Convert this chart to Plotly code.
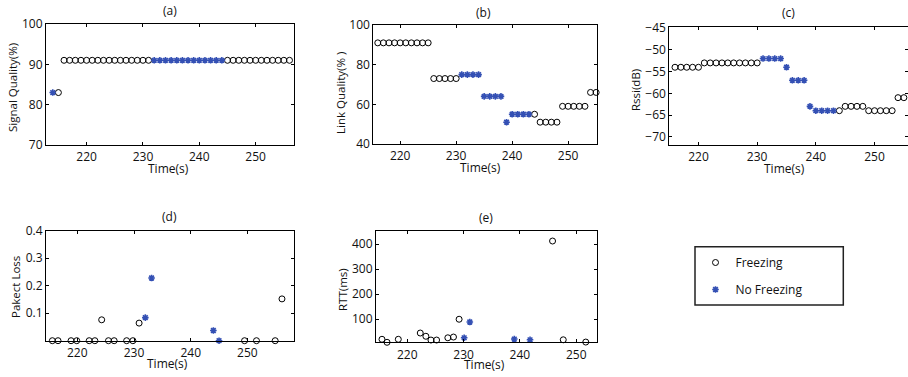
import plotly.graph_objects as go

# ---------------- data ----------------
# (a) Signal quality (%)
a_free_t = [215, 216, 217, 218, 219, 220, 221, 222, 223, 224, 225, 226, 227, 228, 229, 230, 231,
            245, 246, 247, 248, 249, 250, 251, 252, 253, 254, 255, 256, 257]
a_free_v = [83, 91, 91, 91, 91, 91, 91, 91, 91, 91, 91, 91, 91, 91, 91, 91, 91,
            91, 91, 91, 91, 91, 91, 91, 91, 91, 91, 91, 91, 91]
a_nofree_t = [214, 232, 233, 234, 235, 236, 237, 238, 239, 240, 241, 242, 243, 244]
a_nofree_v = [83, 91, 91, 91, 91, 91, 91, 91, 91, 91, 91, 91, 91, 91]

# (b) Link quality (%)
b_free_t = [216, 217, 218, 219, 220, 221, 222, 223, 224, 225, 226, 227, 228, 229, 230,
            244, 245, 246, 247, 248, 249, 250, 251, 252, 253, 254, 255]
b_free_v = [91, 91, 91, 91, 91, 91, 91, 91, 91, 91, 73, 73, 73, 73, 73,
            55, 51, 51, 51, 51, 59, 59, 59, 59, 59, 66, 66]
b_nofree_t = [231, 232, 233, 234, 235, 236, 237, 238, 239, 240, 241, 242, 243]
b_nofree_v = [75, 75, 75, 75, 64, 64, 64, 64, 51, 55, 55, 55, 55]

# (c) RSSI (dB)
c_free_t = [216, 217, 218, 219, 220, 221, 222, 223, 224, 225, 226, 227, 228, 229, 230,
            244, 245, 246, 247, 248, 249, 250, 251, 252, 253, 254, 255]
c_free_v = [-54, -54, -54, -54, -54, -53, -53, -53, -53, -53, -53, -53, -53, -53, -53,
            -64, -63, -63, -63, -63, -64, -64, -64, -64, -64, -61, -61]
c_nofree_t = [231, 232, 233, 234, 235, 236, 237, 238, 239, 240, 241, 242, 243]
c_nofree_v = [-52, -52, -52, -52, -54, -57, -57, -57, -63, -64, -64, -64, -64]

# (d) Packet loss
d_free_t = [215.6, 216.6, 218.9, 219.9, 222.1, 223.1, 224.3, 225.5, 226.5, 228.7, 229.8,
            230.9, 249.5, 251.6, 254.9, 256.1]
d_free_v = [0, 0, 0, 0, 0, 0, 0.076, 0, 0, 0, 0, 0.064, 0, 0, 0, 0.152]
d_nofree_t = [232.0, 233.1, 244.0, 245.0]
d_nofree_v = [0.084, 0.228, 0.037, 0.0]

# (e) RTT (ms)
e_free_t = [215.5, 216.4, 218.4, 222.3, 223.3, 224.2, 225.2, 227.2, 228.2, 229.2, 245.8, 247.7, 251.7]
e_free_v = [20, 8, 20, 45, 32, 17, 17, 26, 29, 100, 412, 18, 9]
e_nofree_t = [230.1, 231.1, 239.0, 241.8]
e_nofree_v = [26, 89, 21, 18]

x_ticks = [220, 230, 240, 250]

# ---------------- layout helpers ----------------
W, H = 908, 377
FONT = "Open Sans"
BLUE = "#3450b4"


def px_x(p):
    return p / W


def px_y(p):
    return 1 - p / H


panels = {
    # name: (x0, x1, ytop, ybottom) in pixels
    "a": (46, 294, 24, 145),
    "b": (373.3, 596.7, 25, 144),
    "c": (669.3, 908, 27.3, 145),
    "d": (46, 294, 230.7, 340.7),
    "e": (376, 596.7, 231, 342.3),
}

xranges = {
    "a": [212.8, 256.8],
    "b": [215.2, 255.1],
    "c": [215.03, 255.7],
    "d": [214.48, 258.22],
    "e": [214.44, 253.64],
}
yranges = {
    "a": [70, 100],
    "b": [40, 100],
    "c": [-71.9, -44.8],
    "d": [0, 0.4],
    "e": [8, 452],
}
yticks = {
    "a": ([70, 80, 90, 100], None),
    "b": ([40, 60, 80, 100], None),
    "c": ([-70, -65, -60, -55, -50, -45], ["\u221270", "\u221265", "\u221260", "\u221255", "\u221250", "\u221245"]),
    "d": ([0.1, 0.2, 0.3, 0.4], ["0.1", "0.2", "0.3", "0.4"]),
    "e": ([100, 200, 300, 400], None),
}
series = {
    "a": (a_free_t, a_free_v, a_nofree_t, a_nofree_v),
    "b": (b_free_t, b_free_v, b_nofree_t, b_nofree_v),
    "c": (c_free_t, c_free_v, c_nofree_t, c_nofree_v),
    "d": (d_free_t, d_free_v, d_nofree_t, d_nofree_v),
    "e": (e_free_t, e_free_v, e_nofree_t, e_nofree_v),
}

fig = go.Figure()
layout = dict(
    template="none",
    width=W, height=H,
    margin=dict(l=0, r=0, t=0, b=0, pad=0, autoexpand=False),
    paper_bgcolor="white", plot_bgcolor="white",
    font=dict(family=FONT, size=12, color="#111"),
    showlegend=True,
)

for i, name in enumerate(["a", "b", "c", "d", "e"]):
    idx = "" if i == 0 else str(i + 1)
    x0, x1, yt, yb = panels[name]
    tv, tt = yticks[name]
    axis_common = dict(
        showline=True, linecolor="black", linewidth=1, mirror="ticks",
        ticks="inside", ticklen=3, tickcolor="black", tickwidth=1,
        showgrid=False, zeroline=False, automargin=False,
        tickfont=dict(family=FONT, size=12, color="#111"),
    )
    layout["xaxis" + idx] = dict(
        domain=[px_x(x0), px_x(x1)], range=xranges[name],
        anchor="y" + idx, tickvals=x_ticks, ticklabelstandoff=1, **axis_common)
    yax = dict(domain=[px_y(yb), px_y(yt)], range=yranges[name],
               anchor="x" + idx, tickvals=tv, **axis_common)
    if tt is not None:
        yax["ticktext"] = tt
    layout["yaxis" + idx] = yax

    ft, fv, nt, nv = series[name]
    fig.add_trace(go.Scatter(
        x=ft, y=fv, mode="markers", name="Freezing",
        xaxis="x" + idx, yaxis="y" + idx, cliponaxis=False,
        legendgroup="g1", showlegend=(name == "a"),
        marker=dict(symbol="circle-open", size=6, color="black", line=dict(width=1, color="black")),
    ))
    fig.add_trace(go.Scatter(
        x=nt, y=nv, mode="markers", name="No Freezing",
        xaxis="x" + idx, yaxis="y" + idx, cliponaxis=False,
        legendgroup="g2", showlegend=(name == "a"),
        marker=dict(symbol="asterisk-open", size=5.5, color=BLUE, line=dict(width=1.6, color=BLUE)),
    ))

annotations = []


def add_text(text, x, y, angle=0, size=12):
    annotations.append(dict(
        text=text, x=px_x(x), y=px_y(y), xref="paper", yref="paper",
        showarrow=False, xanchor="center", yanchor="middle",
        textangle=angle, font=dict(family=FONT, size=size, color="#111")))


# panel titles
add_text("(a)", 170, 10)
add_text("(b)", 483, 12)
add_text("(c)", 788, 13)
add_text("(d)", 169, 216)
add_text("(e)", 486, 217)
# x titles
add_text("Time(s)", 168, 168)
add_text("Time(s)", 481, 167)
add_text("Time(s)", 784, 168)
add_text("Time(s)", 167, 363)
add_text("Time(s)", 484, 364)
# y titles
add_text("Signal Quality(%)", 12, 88, angle=-90, size=11.5)
add_text("Link Quality(% )", 340, 93, angle=-90, size=11.5)
add_text("Rssi(dB)", 635, 90, angle=-90, size=11.5)
add_text("Pakect Loss", 15, 287, angle=-90, size=11.5)
add_text("RTT(ms)", 342, 290, angle=-90, size=11.5)

layout["annotations"] = annotations
layout["shapes"] = [dict(
    type="rect", xref="paper", yref="paper",
    x0=px_x(695), x1=px_x(843.3), y0=px_y(305), y1=px_y(246.7),
    line=dict(color="#222", width=1.5), fillcolor="rgba(0,0,0,0)")]
layout["legend"] = dict(
    x=px_x(695.5), y=px_y(248), xanchor="left", yanchor="top",
    bgcolor="rgba(0,0,0,0)", borderwidth=0,
    font=dict(family=FONT, size=12, color="#111"),
    tracegroupgap=8, itemsizing="trace",
)

fig.update_layout(**layout)
# remove the browser's default 8px page margin so the figure fills the window
fig.write_html("out.html",
               config={"displayModeBar": False},
               post_script="document.body.style.margin='0';document.body.style.padding='0';")
